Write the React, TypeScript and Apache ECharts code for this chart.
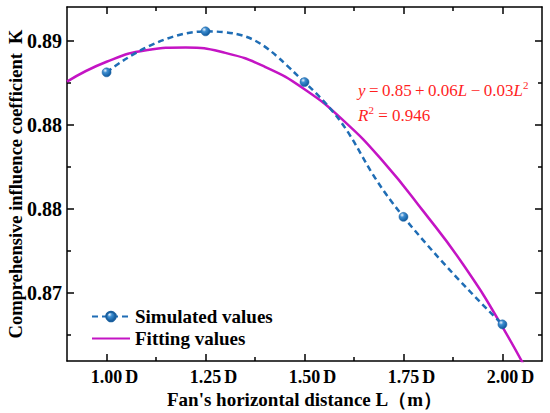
import React, { useEffect, useRef } from "react";
import * as echarts from "echarts";

const xTickValues = [1.0, 1.25, 1.5, 1.75, 2.0];
const xTickLabels = ["1.00", "1.25", "1.50", "1.75", "2.00"];
const xMinorTicks = [1.125, 1.375, 1.625, 1.875];
const yTickValues = [0.8725, 0.8775, 0.8825, 0.8875];
const yTickLabels = ["0.87", "0.88", "0.88", "0.89"];
const yMinorTicks = [0.87, 0.875, 0.88, 0.885];

const simL = [1.0, 1.25, 1.5, 1.75, 2.0];
const simK = [0.88562, 0.88806, 0.88504, 0.87702, 0.87062];

const fitL = [0.9, 1.0, 1.1, 1.2, 1.3, 1.4, 1.5, 1.6, 1.7, 1.8, 1.9, 2.0, 2.1];
const fitK = [0.88507, 0.88625, 0.88693, 0.8871, 0.88678, 0.88595, 0.88462, 0.88272, 0.88028, 0.87736, 0.87421, 0.87047, 0.86614];

const X_MIN = 0.9;
const X_MAX = 2.1;
const Y_MIN = 0.86844;
const Y_MAX = 0.88951;

const FONT = "Liberation Serif";

function findLabel(values: number[], labels: string[], v: number) {
  const i = values.findIndex((t) => Math.abs(t - v) < 1e-7);
  return i >= 0 ? labels[i] : "";
}

export default function App() {
  const ref = useRef<HTMLDivElement>(null);
  useEffect(() => {
    document.body.style.margin = "0";
    if (!ref.current) return;
    const chart = echarts.init(ref.current, undefined, { renderer: "svg" });
    const blue = "#1f6db5";
    const magenta = "#c414c4";
    const red = "#ff1f1f";
    const grid = { left: 67, right: 8, top: 7, bottom: 52, containLabel: false, outerBoundsMode: "none" };
    const lineStyle = { color: "#000", width: 1.5 };
    const tickFont = (size: number) => ({
      fontFamily: FONT,
      fontWeight: "bold",
      fontSize: size,
      color: "#000",
      lineHeight: size + 2,
    });

    const majorX = (pos: string, labels: boolean) => ({
      type: "value",
      gridIndex: 0,
      position: pos,
      min: X_MIN,
      max: X_MAX,
      axisLine: { show: true, lineStyle },
      axisTick: { show: true, inside: true, length: 7, lineStyle, customValues: xTickValues },
      axisLabel: labels
        ? {
            show: true,
            customValues: xTickValues,
            margin: 6,
            ...tickFont(18),
            rich: {
              t: tickFont(18),
              d: { ...tickFont(18), padding: [0, 0, 0, 3] },
              p: { ...tickFont(18), color: "rgba(0,0,0,0)", padding: [0, 3, 0, 0] },
            },
            formatter: (v: number) => "{p|D}{t|" + findLabel(xTickValues, xTickLabels, v) + "}{d|D}",
          }
        : { show: false },
      splitLine: { show: false },
      ...(labels
        ? {
            name: "Fan's horizontal distance L\uff08m\uff09",
            nameLocation: "middle",
            nameGap: 29,
            nameMoveOverlap: false,
            nameTextStyle: { fontFamily: FONT, fontWeight: "bold", fontSize: 19, color: "#000" },
          }
        : {}),
    });
    const minorX = (pos: string) => ({
      type: "value",
      gridIndex: 1,
      position: pos,
      min: X_MIN,
      max: X_MAX,
      axisLine: { show: false },
      axisTick: { show: true, inside: true, length: 4, lineStyle, customValues: xMinorTicks },
      axisLabel: { show: false },
      splitLine: { show: false },
    });
    const majorY = (pos: string, labels: boolean) => ({
      type: "value",
      gridIndex: 0,
      position: pos,
      min: Y_MIN,
      max: Y_MAX,
      axisLine: { show: true, lineStyle },
      axisTick: { show: true, inside: true, length: 7, lineStyle, customValues: yTickValues },
      axisLabel: labels
        ? {
            show: true,
            customValues: yTickValues,
            margin: 5,
            ...tickFont(20),
            rich: { t: tickFont(20) },
            formatter: (v: number) => "{t|" + findLabel(yTickValues, yTickLabels, v) + "}",
          }
        : { show: false },
      splitLine: { show: false },
      ...(labels
        ? {
            name: "Comprehensive influence coefficient  K",
            nameLocation: "middle",
            nameGap: 42,
            nameMoveOverlap: false,
            nameTextStyle: { fontFamily: FONT, fontWeight: "bold", fontSize: 18.5, color: "#000" },
          }
        : {}),
    });
    const minorY = (pos: string) => ({
      type: "value",
      gridIndex: 1,
      position: pos,
      min: Y_MIN,
      max: Y_MAX,
      axisLine: { show: false },
      axisTick: { show: true, inside: true, length: 4, lineStyle, customValues: yMinorTicks },
      axisLabel: { show: false },
      splitLine: { show: false },
    });

    const markerColor = new echarts.graphic.RadialGradient(0.35, 0.3, 0.7, [
      { offset: 0, color: "#eaf3fc" },
      { offset: 0.35, color: "#3d8dd0" },
      { offset: 1, color: "#0f5a9e" },
    ]);

    const richStyles = {
      i: { fontFamily: FONT, fontStyle: "italic", fontSize: 17, fill: red, lineHeight: 20, verticalAlign: "bottom" },
      n: { fontFamily: FONT, fontSize: 17, fill: red, lineHeight: 20, verticalAlign: "bottom" },
      s: { fontFamily: FONT, fontSize: 11, fill: red, lineHeight: 20, verticalAlign: "top" },
    };

    chart.setOption({
      animation: false,
      backgroundColor: "#fff",
      grid: [grid, grid],
      xAxis: [majorX("bottom", true), majorX("top", false), minorX("bottom"), minorX("top")],
      yAxis: [majorY("left", true), majorY("right", false), minorY("left"), minorY("right")],
      legend: {
        orient: "vertical",
        left: 86,
        top: 302,
        itemWidth: 38,
        itemHeight: 12,
        itemGap: 3,
        textStyle: { fontFamily: FONT, fontWeight: "bold", fontSize: 19, color: "#000" },
        data: [
          { name: "Simulated values" },
          { name: "Fitting values", itemStyle: { opacity: 0 } },
        ],
      },
      series: [
        {
          name: "Simulated values",
          type: "line",
          xAxisIndex: 0,
          yAxisIndex: 0,
          smooth: 0.5,
          data: simL.map((l, i) => [l, simK[i]]),
          symbol: "circle",
          symbolSize: 9,
          lineStyle: { color: blue, width: 2.5, type: [6, 4] },
          itemStyle: { color: markerColor, borderColor: "#1a5f9e", borderWidth: 0.5 },
          z: 3,
        },
        {
          name: "Fitting values",
          type: "line",
          xAxisIndex: 0,
          yAxisIndex: 0,
          smooth: 0.5,
          data: fitL.map((l, i) => [l, fitK[i]]),
          symbol: "none",
          lineStyle: { color: magenta, width: 2.5 },
          itemStyle: { color: magenta },
          clip: true,
          z: 2,
        },
      ],
      graphic: [
        {
          type: "text",
          left: 358,
          top: 79,
          style: {
            text: "{i|y}{n|\u2009=\u20090.85\u2009+\u20090.06}{i|L}{n|\u2009\u2212\u20090.03}{i|L}{s|2}",
            rich: richStyles,
          },
        },
        {
          type: "text",
          left: 358,
          top: 104,
          style: {
            text: "{i|R}{s|2}{n| = 0.946}",
            rich: richStyles,
          },
        },
      ],
    });
    return () => chart.dispose();
  }, []);
  return <div ref={ref} style={{ width: 550, height: 413 }} />;
}
